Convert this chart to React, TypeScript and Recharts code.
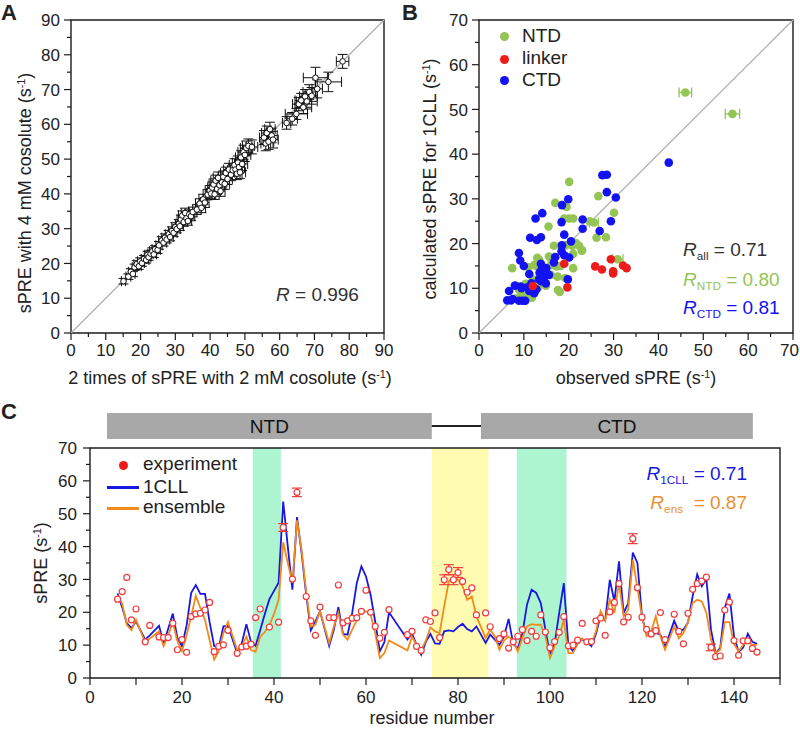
import React from 'react';
import {
  ScatterChart,
  Scatter,
  ComposedChart,
  Line,
  XAxis,
  YAxis,
  ReferenceLine,
  ReferenceArea,
  ErrorBar,
} from 'recharts';

const FONT = '"Liberation Sans", Arial, Helvetica, sans-serif';
const AXIS = '#1c1c1c';
const TXT = '#222222';

// ---------------- Panel A data ----------------
const aX = [15.1, 16.5, 17.2, 17.8, 18.3, 18.9, 19.5, 19.9, 20.4, 21.0, 21.6, 22.0, 22.3, 22.9, 23.4, 23.8, 24.2, 24.9, 25.3, 26.1, 26.6, 27.0, 27.5, 28.1, 28.5, 29.0, 29.5, 30.0, 30.4, 31.0, 31.3, 31.6, 32.0, 32.4, 32.8, 33.2, 33.6, 34.0, 34.5, 35.0, 36.2, 37.0, 37.5, 38.0, 38.5, 39.3, 39.9, 40.3, 40.6, 41.0, 41.3, 41.6, 42.0, 42.3, 42.7, 43.0, 43.4, 43.8, 44.2, 44.5, 45.0, 45.4, 46.0, 46.5, 47.0, 47.3, 47.7, 48.0, 48.3, 48.6, 48.9, 49.2, 49.6, 50.0, 50.4, 51.0, 52.0, 55.5, 56.0, 56.3, 56.8, 57.2, 57.7, 58.1, 62.0, 63.6, 64.8, 65.5, 66.2, 66.8, 67.3, 67.8, 68.5, 69.2, 70.3, 70.8, 74.0, 78.1];
const aY = [14.9, 16.2, 17.6, 17.0, 18.9, 19.8, 19.2, 20.6, 20.1, 21.3, 21.0, 22.5, 21.8, 22.8, 23.5, 22.6, 24.1, 23.9, 25.2, 26.6, 26.0, 27.4, 26.9, 28.4, 27.6, 29.3, 28.8, 30.5, 29.9, 31.4, 30.7, 32.6, 33.8, 31.9, 34.5, 33.0, 32.2, 34.1, 33.6, 34.8, 35.5, 37.2, 36.0, 38.4, 37.5, 39.8, 40.9, 40.1, 41.8, 42.7, 39.9, 43.8, 41.4, 44.6, 42.5, 40.8, 43.3, 44.9, 42.9, 46.0, 44.3, 47.0, 45.5, 46.8, 48.3, 47.0, 45.8, 49.0, 47.7, 46.2, 50.5, 48.6, 52.0, 51.2, 53.2, 53.8, 53.5, 56.2, 54.5, 57.5, 55.0, 58.6, 56.8, 55.6, 60.4, 61.6, 63.0, 65.8, 66.9, 64.9, 68.0, 66.6, 69.3, 68.2, 73.4, 70.2, 72.2, 78.1];
const aEx = [0.6, 0.7, 0.7, 0.6, 0.7, 0.8, 0.7, 0.8, 0.7, 0.8, 0.8, 0.8, 0.7, 0.8, 0.8, 0.8, 0.9, 0.8, 0.9, 0.9, 0.9, 0.9, 0.9, 1.0, 0.9, 1.0, 1.0, 1.0, 1.0, 1.0, 1.0, 1.1, 1.1, 1.0, 1.1, 1.1, 1.1, 1.1, 1.1, 1.2, 1.2, 1.2, 1.2, 1.2, 1.2, 1.3, 1.3, 1.3, 1.3, 1.3, 1.3, 1.4, 1.3, 1.4, 1.4, 1.3, 1.4, 1.4, 1.4, 1.5, 1.4, 1.5, 1.5, 1.5, 1.5, 1.5, 1.5, 1.6, 1.6, 1.6, 1.6, 1.6, 1.6, 1.7, 1.7, 1.7, 1.7, 1.3, 1.4, 1.5, 1.5, 1.5, 1.6, 1.5, 1.2, 1.5, 3.2, 1.8, 1.8, 2.4, 1.6, 3.0, 1.8, 1.6, 3.5, 1.5, 3.8, 1.8];
const aEy = [0.8, 0.8, 0.9, 0.8, 0.9, 1.0, 0.9, 1.0, 0.9, 1.0, 0.9, 1.0, 0.9, 1.0, 1.0, 0.9, 1.0, 1.0, 1.1, 1.1, 1.0, 1.1, 1.0, 1.1, 1.1, 1.2, 1.1, 1.2, 1.1, 1.2, 1.2, 1.3, 1.3, 1.2, 1.4, 1.3, 1.2, 1.3, 1.3, 1.4, 1.4, 1.4, 1.4, 1.5, 1.4, 1.5, 1.5, 1.5, 1.6, 1.6, 1.5, 1.6, 1.5, 1.7, 1.6, 1.5, 1.6, 1.7, 1.6, 1.7, 1.6, 1.8, 1.7, 1.8, 1.8, 1.8, 1.7, 1.9, 1.8, 1.8, 1.9, 1.9, 2.0, 1.9, 2.0, 2.0, 2.0, 2.0, 2.1, 2.0, 2.2, 2.0, 2.1, 2.4, 1.8, 1.8, 1.6, 1.9, 2.0, 1.8, 2.0, 2.2, 2.1, 2.4, 3.0, 2.6, 2.8, 2.0];
const ticksA = [0, 5, 10, 15, 20, 25, 30, 35, 40, 45, 50, 55, 60, 65, 70, 75, 80, 85, 90];

// ---------------- Panel B data ----------------
const ntdObs = [20.1, 26.6, 17.0, 19.5, 19.0, 20.1, 21.0, 24.7, 25.6, 30.1, 15.5, 26.2, 28.3, 21.6, 22.3, 22.9, 16.7, 18.2, 19.3, 20.8, 21.0, 13.0, 13.4, 12.3, 12.8, 15.6, 16.2, 17.3, 18.2, 21.0, 7.4, 30.9, 13.2, 14.9, 17.5, 18.0, 17.6, 8.9, 8.2, 9.1, 9.7, 10.8, 11.5, 12.0, 10.4, 16.0, 14.0, 11.0, 12.0, 46.0, 56.5, 23.0, 19.2, 11.8, 8.5];
const ntdCalc = [33.8, 30.6, 29.1, 28.2, 25.6, 25.6, 25.6, 25.0, 24.7, 26.9, 23.8, 21.3, 21.4, 20.1, 19.5, 18.4, 19.5, 19.5, 19.6, 19.5, 17.7, 16.8, 16.4, 15.2, 15.0, 17.1, 15.2, 14.9, 15.0, 14.5, 14.5, 16.5, 10.2, 10.6, 12.6, 9.2, 9.6, 9.7, 7.7, 8.0, 8.4, 8.4, 8.3, 10.8, 11.0, 13.0, 14.0, 14.7, 12.0, 53.8, 49.0, 18.5, 12.3, 7.9, 10.5];
const ntdErr = [0, 0, 0, 0, 0, 0, 0, 0, 1.0, 0, 0, 0, 0, 0, 0, 0, 0, 0, 0, 0, 0, 0, 0, 0, 0, 0, 0.8, 0, 0, 0, 0, 1.2, 0, 0, 0, 0, 0, 0, 0, 0, 0, 0, 0, 0, 0, 0, 0, 0, 0, 1.4, 1.6, 0, 0, 0, 0];
const linkerObs = [19.0, 19.7, 25.9, 27.4, 29.4, 29.9, 29.9, 32.1, 32.9, 12.0];
const linkerCalc = [15.5, 10.2, 14.9, 14.2, 16.5, 13.8, 13.3, 15.1, 14.5, 10.5];
const ctdObs = [42.3, 27.5, 28.5, 28.5, 30.5, 19.9, 18.5, 14.1, 12.6, 18.4, 23.1, 29.4, 23.1, 26.9, 11.4, 13.8, 19.0, 12.9, 20.5, 8.9, 18.5, 9.2, 10.0, 17.0, 19.0, 13.8, 11.2, 13.5, 14.2, 13.4, 14.5, 15.6, 19.8, 14.9, 8.0, 9.3, 6.7, 10.8, 11.2, 11.8, 6.3, 7.1, 8.9, 9.7, 10.3, 12.3, 12.0, 14.0, 13.9, 18.4, 16.7, 20.1, 12.8, 7.5, 9.5, 15.0, 11.7];
const ctdCalc = [38.1, 35.3, 35.4, 31.5, 30.3, 29.9, 28.6, 26.8, 25.6, 24.8, 25.4, 25.0, 23.3, 22.8, 21.3, 21.4, 22.0, 20.8, 20.5, 17.9, 19.6, 16.2, 15.0, 17.0, 17.4, 15.5, 13.2, 13.5, 12.8, 12.0, 12.4, 13.0, 12.0, 11.1, 10.6, 10.4, 9.4, 10.2, 9.4, 9.4, 7.3, 7.3, 7.2, 7.2, 7.2, 8.9, 10.3, 14.3, 11.6, 18.3, 15.8, 16.9, 9.8, 7.6, 10.0, 14.5, 11.1];
const ticksB = [0, 5, 10, 15, 20, 25, 30, 35, 40, 45, 50, 55, 60, 65, 70];

// ---------------- Panel C data ----------------
const firstResidue = 6;
const expVals = [24.0, 26.3, 30.6, 17.7, 21.0, null, 11.0, 16.0, null, 12.5, 12.3, 12.3, 16.7, 8.6, 11.7, 7.8, 18.7, 19.5, 19.7, 20.7, 23.0, 8.0, 9.6, 10.1, 14.5, null, 7.5, 9.4, 9.7, 10.3, 18.4, 21.0, null, 15.5, null, 17.0, 45.8, null, 30.1, 56.5, null, 24.8, 17.4, 13.0, 21.6, null, 18.4, 18.4, 28.3, 16.8, 17.4, 18.2, 18.3, 20.3, 26.7, 20.0, 15.7, 12.1, 13.9, 20.8, null, null, null, 13.2, 14.2, 9.6, 8.4, 17.7, 17.2, 19.8, 12.3, 29.9, 33.0, 29.9, 32.1, 29.4, 26.1, 27.4, 19.2, null, 19.8, 15.6, null, 12.0, 13.4, 9.1, 11.0, 12.7, 14.7, 11.4, 14.2, 12.7, 19.2, 14.0, 9.2, 11.1, 13.9, 18.7, 9.8, 10.0, 11.5, 16.6, 11.0, 11.1, 17.4, 18.2, 13.0, 20.1, 23.0, 28.7, 17.1, 18.5, 42.4, 27.5, 18.5, 14.8, 13.4, 14.4, 19.9, 11.7, null, 19.4, 14.2, 10.4, 19.7, 27.0, 28.7, 29.5, 30.7, 9.3, 6.5, 6.7, 20.7, 23.1, 11.4, 6.9, 11.3, 11.3, 9.0, 7.9];
const expErr = [0, 0, 0, 0, 0, 0, 0, 0, 0, 0, 0, 0, 0, 0, 0, 0, 0, 0, 0, 0, 0, 0, 0, 0, 0, 0, 0, 0, 0, 0, 0, 0, 0, 0, 0, 0, 1.2, 0, 0, 1.3, 0, 0, 0, 0, 0, 0, 0, 0, 0, 0, 0, 0, 0, 0, 0, 0, 0, 0, 0, 0, 0, 0, 0, 0, 0, 0, 0, 0, 0, 0, 0, 1.5, 1.5, 1.5, 1.5, 0, 0, 0, 0, 0, 0, 0, 0, 0, 0, 0, 0, 0, 0, 0, 0, 0, 0, 0, 0, 0, 0, 0, 0, 0, 0, 0, 0, 0, 0, 0, 0, 0, 0, 0, 0, 0, 1.5, 0, 0, 0, 0, 0, 0, 0, 0, 0, 0, 0, 0, 0, 0, 0, 0, 1.0, 0, 0, 0, 0, 0, 0, 0, 0, 0, 0, 0];
const cllVals = [25.7, 21.5, 16.7, 15.2, 17.2, null, 11.7, 13.0, null, 15.9, 10.6, 15.0, 19.6, 12.2, 9.7, 16.0, 25.9, 28.3, 25.6, 25.6, 17.0, 9.7, 9.2, 15.7, 15.9, null, 7.6, 10.6, 16.4, 11.0, 9.8, 14.5, 19.5, 24.0, 26.5, 29.0, 53.7, 40.0, 26.9, 49.0, 38.0, 25.3, 14.5, 17.2, 20.3, null, 9.8, 14.7, 21.6, 13.4, 13.2, 19.8, 28.9, 34.0, 30.9, 25.3, 17.2, 8.1, 10.9, 20.0, null, null, null, 11.7, 13.5, 10.1, 7.1, 11.0, 13.4, 10.5, 10.4, 14.2, 14.5, 14.2, 15.5, 16.5, 14.9, 14.2, 15.7, null, 10.7, 13.2, 11.7, 10.1, 12.6, 18.0, 10.4, 9.0, 13.5, 22.3, 26.9, 25.9, 22.8, 14.7, 7.1, 10.4, 19.8, 28.9, 9.7, 8.2, 11.0, 11.7, 11.0, 9.7, 13.5, 19.0, 17.5, 29.9, 23.3, 35.5, 19.8, 22.7, 38.2, 35.0, 18.8, 13.2, 12.7, 13.7, 13.2, 9.4, null, 17.4, 14.2, 14.7, 16.9, 24.8, 31.5, 27.9, 30.1, 14.7, 7.6, 9.1, 21.3, 25.7, 12.7, 7.9, 9.3, 13.5, 11.0, 10.4];
const ensVals = [25.2, 22.6, 16.2, 14.6, 17.7, null, 10.8, 12.0, null, 14.2, 9.7, 13.0, 17.0, 11.2, 8.2, 13.0, 18.8, 25.0, 21.3, 17.7, 11.5, 5.6, 8.2, 13.7, 17.0, null, 8.5, 9.7, 12.6, 8.5, 8.0, 12.5, 14.0, 16.0, 19.5, 23.8, 41.3, 35.0, 29.0, 48.0, 39.0, 26.2, 15.7, 16.2, 20.3, null, 10.6, 15.7, 19.8, 13.2, 11.7, 14.7, 17.7, 20.3, 20.3, 19.3, 13.7, 6.1, 7.6, 11.4, null, null, null, 8.4, 12.5, 10.1, 8.4, 11.4, 15.4, 14.2, 13.7, 21.8, 29.4, 30.9, 29.9, 27.9, 23.8, 24.8, 18.8, null, 12.2, 14.7, 12.7, 8.6, 11.4, 12.6, 11.4, 8.1, 12.2, 15.7, 16.4, 16.2, 16.2, 12.7, 6.1, 9.7, 12.7, 17.7, 7.6, 7.6, 10.4, 12.0, 11.0, 10.4, 14.2, 20.3, 17.4, 23.8, 19.8, 28.9, 18.8, 20.8, 36.0, 27.4, 18.5, 12.7, 14.2, 18.8, 12.7, 8.6, null, 15.7, 12.1, 13.7, 17.0, 22.8, 23.8, 23.3, 19.8, 11.7, 7.6, 8.6, 17.0, 17.0, 10.4, 8.1, 10.1, 11.0, 10.1, 10.1];
const ticksCx = [0, 10, 20, 30, 40, 50, 60, 70, 80, 90, 100, 110, 120, 130, 140, 150];
const ticksCy = [0, 5, 10, 15, 20, 25, 30, 35, 40, 45, 50, 55, 60, 65, 70];
const bandStart = [35.4, 74.3, 92.8];
const bandEnd = [41.5, 86.6, 103.6];
const bandColor = ['#adf5d1', '#fffcb2', '#adf5d1'];
const domainNames = ['NTD', 'CTD'];
const domainStart = [3.7, 85.0];
const domainEnd = [74.3, 144.1];
const linkerSpan = [74.3, 85.0];

// ---------------- colours ----------------
const C_BLUE = '#1818e0';
const C_ORANGE = '#f28a1c';
const C_EXP = '#f03c3c';
const B_GREEN = '#93c454';
const B_RED = '#ee1b1b';
const B_BLUE = '#1212f2';

// ---------------- built tables ----------------
const aData = aX.map((x, i) => ({ x, y: aY[i], ex: aEx[i], ey: aEy[i] }));
const ntdData = ntdObs.map((x, i) => ({ x, y: ntdCalc[i], ex: ntdErr[i] }));
const linkerData = linkerObs.map((x, i) => ({ x, y: linkerCalc[i] }));
const ctdData = ctdObs.map((x, i) => ({ x, y: ctdCalc[i] }));
const cData = expVals.map((v, i) => ({
  res: firstResidue + i,
  exp: v,
  err: expErr[i],
  cll: cllVals[i],
  ens: ensVals[i],
}));
const expData = cData.filter((d) => d.exp !== null);
const domainFrame = [
  { x: 0, y: 0 },
  { x: 150, y: 1 },
];

// ---------------- ticks ----------------
function yTick(step: number, fs: number, gap: number) {
  return (p: any) => {
    const v = p.payload.value;
    const major = v % step === 0;
    const len = major ? 7 : 4;
    return (
      <g>
        <line x1={p.x} x2={p.x - len} y1={p.y} y2={p.y} stroke={AXIS} strokeWidth={1.2} />
        {major ? (
          <text x={p.x - 7 - gap} y={p.y} dy="0.36em" textAnchor="end" fontSize={fs} fontFamily={FONT} fill={TXT}>
            {v}
          </text>
        ) : null}
      </g>
    );
  };
}

function xTick(step: number, fs: number, labelDy: number, minorLen: number, rightLimit = 10000) {
  return (p: any) => {
    const v = p.payload.value;
    const major = v % step === 0;
    const len = major ? 7 : minorLen;
    const clamp = p.x + 11 > rightLimit;
    return (
      <g>
        <line x1={p.x} x2={p.x} y1={p.y} y2={p.y + len} stroke={AXIS} strokeWidth={1.2} />
        {major ? (
          <text
            x={clamp ? rightLimit : p.x}
            y={p.y + labelDy}
            textAnchor={clamp ? 'end' : 'middle'}
            fontSize={fs}
            fontFamily={FONT}
            fill={TXT}
          >
            {v}
          </text>
        ) : null}
      </g>
    );
  };
}

// ---------------- html text helpers ----------------
const Sup = ({ children }: any) => (
  <span style={{ fontSize: '0.6em', position: 'relative', top: '-0.55em' }}>{children}</span>
);
const Sub = ({ children }: any) => (
  <span style={{ fontSize: '0.62em', position: 'relative', top: '0.35em' }}>{children}</span>
);

const Txt = ({ x, y, size = 18, color = TXT, align = 'center', rotate = 0, bold = false, children }: any) => {
  const tx = align === 'center' ? '-50%' : align === 'right' ? '-100%' : '0%';
  return (
    <div
      style={{
        position: 'absolute',
        left: x,
        top: y,
        transform: `translate(${tx}, -50%) rotate(${rotate}deg)`,
        fontSize: size,
        color,
        fontFamily: FONT,
        fontWeight: bold ? 700 : 400,
        whiteSpace: 'nowrap',
        lineHeight: 1.2,
      }}
    >
      {children}
    </div>
  );
};

const Dot = ({ x, y, r, color }: any) => (
  <div
    style={{
      position: 'absolute',
      left: x - r,
      top: y - r,
      width: 2 * r,
      height: 2 * r,
      borderRadius: '50%',
      background: color,
    }}
  />
);

const Dash = ({ x1, x2, y, color }: any) => (
  <div style={{ position: 'absolute', left: x1, top: y - 1.5, width: x2 - x1, height: 3, background: color }} />
);

const openCircle = (stroke: string, r: number, sw: number) => (p: any) => (
  <circle cx={p.cx} cy={p.cy} r={r} fill="#ffffff" stroke={stroke} strokeWidth={sw} />
);
const filledCircle = (fill: string, r: number) => (p: any) => <circle cx={p.cx} cy={p.cy} r={r} fill={fill} />;

const axisCommon = {
  type: 'number' as const,
  interval: 0 as const,
  tickSize: 0,
  tickMargin: 0,
  axisLine: false,
  tickLine: false,
};

export default function App() {
  return (
    <div
      style={{
        position: 'absolute',
        left: 0,
        top: 0,
        width: 800,
        height: 730,
        background: '#ffffff',
        fontFamily: FONT,
        overflow: 'hidden',
      }}
    >
      {/* Panel A */}
      <div style={{ position: 'absolute', left: 0, top: 0 }}>
        <ScatterChart width={400} height={390} margin={{ top: 20, right: 16, bottom: 27, left: 21 }}>
          <XAxis {...axisCommon} dataKey="x" domain={[0, 90]} ticks={ticksA} height={30} tick={xTick(10, 17, 23, 4)} />
          <YAxis {...axisCommon} dataKey="y" domain={[0, 90]} ticks={ticksA} width={50} tick={yTick(10, 17, 4)} />
          <ReferenceLine
            segment={[
              { x: 0, y: 0 },
              { x: 90, y: 90 },
            ]}
            stroke="#b0b0b0"
            strokeWidth={1.3}
          />
          <Scatter data={aData} isAnimationActive={false} shape={openCircle('#111', 2.8, 1)}>
            <ErrorBar dataKey="ex" direction="x" width={5} stroke="#111" strokeWidth={1} />
            <ErrorBar dataKey="ey" direction="y" width={5} stroke="#111" strokeWidth={1} />
          </Scatter>
          <ReferenceArea x1={0} x2={90} y1={0} y2={90} fill="none" stroke={AXIS} strokeWidth={1.4} />
        </ScatterChart>
      </div>

      {/* Panel B */}
      <div style={{ position: 'absolute', left: 400, top: 0 }}>
        <ScatterChart width={400} height={390} margin={{ top: 20, right: 7, bottom: 27, left: 29 }}>
          <XAxis
            {...axisCommon}
            dataKey="x"
            domain={[0, 70]}
            ticks={ticksB}
            height={30}
            tick={xTick(10, 17, 23, 4, 399)}
          />
          <YAxis {...axisCommon} dataKey="y" domain={[0, 70]} ticks={ticksB} width={50} tick={yTick(10, 17, 4)} />
          <ReferenceLine
            segment={[
              { x: 0, y: 0 },
              { x: 70, y: 70 },
            ]}
            stroke="#b0b0b0"
            strokeWidth={1.3}
          />
          <Scatter data={ntdData} isAnimationActive={false} shape={filledCircle(B_GREEN, 4.3)}>
            <ErrorBar dataKey="ex" direction="x" width={5} stroke={B_GREEN} strokeWidth={1.3} />
          </Scatter>
          <Scatter data={ctdData} isAnimationActive={false} shape={filledCircle(B_BLUE, 4.3)} />
          <Scatter data={linkerData} isAnimationActive={false} shape={filledCircle(B_RED, 4.3)} />
          <ReferenceArea x1={0} x2={70} y1={0} y2={70} fill="none" stroke={AXIS} strokeWidth={1.4} />
        </ScatterChart>
      </div>

      {/* Panel C domain bar */}
      <div style={{ position: 'absolute', left: 0, top: 405 }}>
        <ComposedChart width={800} height={40} data={domainFrame} margin={{ top: 8, right: 20, bottom: 6, left: 90 }}>
          <XAxis type="number" dataKey="x" domain={[0, 150]} hide />
          <YAxis type="number" domain={[0, 1]} hide />
          <Line dataKey="y" stroke="none" dot={false} isAnimationActive={false} />
          <ReferenceLine
            segment={[
              { x: linkerSpan[0], y: 0.5 },
              { x: linkerSpan[1], y: 0.5 },
            ]}
            stroke="#222"
            strokeWidth={2}
          />
          {domainNames.map((n, i) => (
            <ReferenceArea
              key={n}
              x1={domainStart[i]}
              x2={domainEnd[i]}
              y1={0}
              y2={1}
              fill="#a8a8a8"
              fillOpacity={1}
              stroke="none"
              label={{ value: n, position: 'center', fontSize: 19, fill: '#111', fontFamily: FONT }}
            />
          ))}
        </ComposedChart>
      </div>

      {/* Panel C */}
      <div style={{ position: 'absolute', left: 0, top: 400 }}>
        <ComposedChart width={800} height={325} data={cData} margin={{ top: 48, right: 20, bottom: 25, left: 40 }}>
          <XAxis {...axisCommon} dataKey="res" domain={[0, 150]} ticks={ticksCx} height={22} tick={xTick(20, 17, 25, 7)} />
          <YAxis {...axisCommon} domain={[0, 70]} ticks={ticksCy} width={50} tick={yTick(10, 17, 6)} />
          {bandStart.map((s, i) => (
            <ReferenceArea
              key={'band' + i}
              x1={s}
              x2={bandEnd[i]}
              y1={0}
              y2={70}
              fill={bandColor[i]}
              fillOpacity={1}
              stroke="none"
            />
          ))}
          <Line dataKey="cll" stroke={C_BLUE} strokeWidth={1.8} dot={false} connectNulls isAnimationActive={false} />
          <Line dataKey="ens" stroke={C_ORANGE} strokeWidth={1.8} dot={false} connectNulls isAnimationActive={false} />
          <Scatter data={expData} dataKey="exp" isAnimationActive={false} shape={openCircle(C_EXP, 3, 1.2)}>
            <ErrorBar dataKey="err" direction="y" width={5} stroke={C_EXP} strokeWidth={1.2} />
          </Scatter>
          <ReferenceArea x1={0} x2={150} y1={0} y2={70} fill="none" stroke={AXIS} strokeWidth={1.4} />
        </ComposedChart>
      </div>

      {/* Panel letters */}
      <Txt x={1} y={13} size={22} bold align="left">A</Txt>
      <Txt x={402} y={13} size={22} bold align="left">B</Txt>
      <Txt x={1} y={412} size={22} bold align="left">C</Txt>

      {/* Panel A texts */}
      <Txt x={26} y={193} rotate={-90} size={18}>
        sPRE with 4 mM cosolute (s<Sup>-1</Sup>)
      </Txt>
      <Txt x={230} y={379} size={18}>
        2 times of sPRE with 2 mM cosolute (s<Sup>-1</Sup>)
      </Txt>
      <Txt x={276} y={295} size={19} align="left" color="#333">
        <i>R</i> = 0.996
      </Txt>

      {/* Panel B texts */}
      <Txt x={431} y={179} rotate={-90} size={18}>
        calculated sPRE for 1CLL (s<Sup>-1</Sup>)
      </Txt>
      <Txt x={636} y={379} size={18}>
        observed sPRE (s<Sup>-1</Sup>)
      </Txt>
      <Dot x={504} y={36.7} r={4.5} color={B_GREEN} />
      <Dot x={504} y={59} r={4.5} color={B_RED} />
      <Dot x={504} y={80.5} r={4.5} color={B_BLUE} />
      <Txt x={522} y={36} size={19} align="left">NTD</Txt>
      <Txt x={522} y={58} size={19} align="left">linker</Txt>
      <Txt x={522} y={80} size={19} align="left">CTD</Txt>
      <Txt x={683} y={250} size={19} align="left" color="#333">
        <i>R</i>
        <Sub>all</Sub> = 0.71
      </Txt>
      <Txt x={683} y={280} size={19} align="left" color={B_GREEN}>
        <i>R</i>
        <Sub>NTD</Sub> = 0.80
      </Txt>
      <Txt x={683} y={308} size={19} align="left" color={B_BLUE}>
        <i>R</i>
        <Sub>CTD</Sub> = 0.81
      </Txt>

      {/* Panel C texts */}
      <Txt x={42} y={563} rotate={-90} size={18}>
        sPRE (s<Sup>-1</Sup>)
      </Txt>
      <Txt x={432} y={719} size={18}>
        residue number
      </Txt>
      <Dot x={123} y={465} r={4.5} color="#ee1b1b" />
      <Dash x1={107} x2={139} y={487.5} color={C_BLUE} />
      <Dash x1={107} x2={139} y={508} color={C_ORANGE} />
      <Txt x={143} y={464} size={19} align="left">experiment</Txt>
      <Txt x={143} y={487} size={19} align="left">1CLL</Txt>
      <Txt x={143} y={507} size={19} align="left">ensemble</Txt>
      <Txt x={747} y={474} size={19} align="right" color={C_BLUE}>
        <i>R</i>
        <Sub>1CLL</Sub> = 0.71
      </Txt>
      <Txt x={747} y={503} size={19} align="right" color="#e8902e">
        <i>R</i>
        <Sub>ens</Sub>&nbsp; = 0.87
      </Txt>
    </div>
  );
}
